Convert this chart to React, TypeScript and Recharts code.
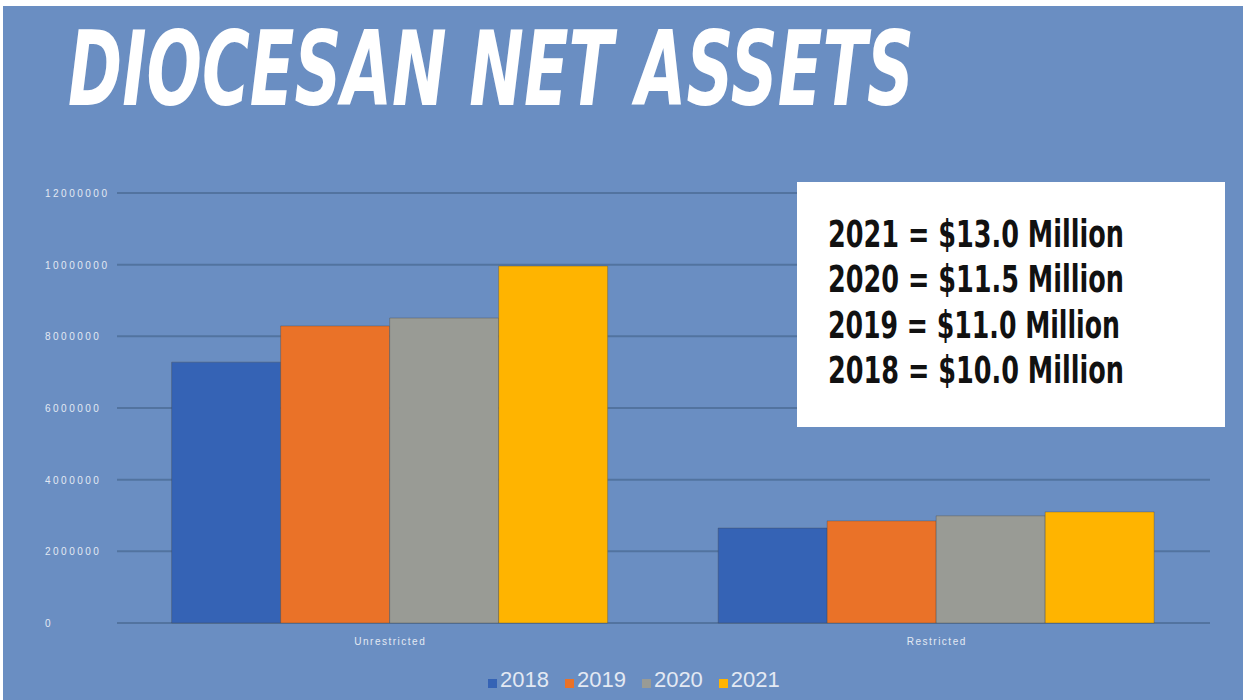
import { Bar, BarChart, CartesianGrid, Legend, XAxis, YAxis } from "recharts";

const categories = ["Unrestricted", "Restricted"];
const years = ["2018", "2019", "2020", "2021"];
const values2018 = [7280000, 2650000];
const values2019 = [8290000, 2850000];
const values2020 = [8510000, 2990000];
const values2021 = [9960000, 3100000];
const yearColors = ["#3563b5", "#ea7228", "#999b95", "#ffb400"];
const yTicks = [0, 2000000, 4000000, 6000000, 8000000, 10000000, 12000000];
const summaryLines = [
  "2021 = $13.0 Million",
  "2020 = $11.5 Million",
  "2019 = $11.0 Million",
  "2018 = $10.0 Million",
];

const seriesValues = [values2018, values2019, values2020, values2021];
const data = categories.map((category, i) => {
  const row: Record<string, string | number> = { category };
  years.forEach((year, j) => {
    row["y" + year] = seriesValues[j][i];
  });
  return row;
});

const BG = "#6a8ec2";
const LABEL = "#e3e9f3";
const condensed = "'DejaVu Sans Condensed', 'DejaVu Sans', sans-serif";

function YTick({ y, payload }: any) {
  return (
    <text x={45} y={y + 4} fontSize={10} letterSpacing={2.5} fill={LABEL} fontFamily="Liberation Sans, sans-serif" textAnchor="start">
      {payload.value}
    </text>
  );
}

function XTick({ x, y, payload }: any) {
  return (
    <text x={x} y={y + 14} fontSize={10} letterSpacing={1.5} fill={LABEL} fontFamily="Liberation Sans, sans-serif" textAnchor="middle">
      {payload.value}
    </text>
  );
}

function LegendContent() {
  return (
    <div style={{ display: "flex", alignItems: "center", height: 28, fontFamily: "Liberation Sans, sans-serif", fontSize: 22, color: LABEL }}>
      {years.map((year, i) => (
        <div key={year} style={{ display: "flex", alignItems: "center", marginRight: 16 }}>
          <span style={{ display: "inline-block", width: 9, height: 9, background: yearColors[i], marginRight: 3, marginTop: 6 }} />
          <span>{year}</span>
        </div>
      ))}
    </div>
  );
}

export default function App() {
  return (
    <div style={{ position: "absolute", left: 0, top: 0, width: 1245, height: 700, background: "#ffffff", overflow: "hidden" }}>
      <div style={{ position: "absolute", left: 3, top: 6, right: 2, bottom: 0, background: BG }} />
      <div style={{ position: "absolute", left: 0, top: 0 }}>
        <BarChart width={1245} height={700} data={data} margin={{ top: 193, right: 35, bottom: 19, left: 0 }} barCategoryGap="10%" barGap={0}>
          <CartesianGrid vertical={false} stroke="#52739f" strokeWidth={2} />
          <XAxis dataKey="category" axisLine={false} tickLine={false} tick={<XTick />} height={30} />
          <YAxis domain={[0, 12000000]} ticks={yTicks} axisLine={false} tickLine={false} width={117} tick={<YTick />} interval={0} />
          <Legend verticalAlign="bottom" content={<LegendContent />} wrapperStyle={{ top: 666, bottom: "auto", left: 488, width: "auto", height: 28 }} />
          {years.map((year, i) => (
            <Bar key={year} dataKey={"y" + year} name={year} fill={yearColors[i]} stroke="rgba(70,70,70,0.35)" strokeWidth={1} isAnimationActive={false} />
          ))}
        </BarChart>
      </div>
      <svg style={{ position: "absolute", left: 0, top: 0 }} width={1000} height={180}>
        <g transform="scale(1, 1.47)">
          <text x={68} y={71.4} fontSize={70} fontFamily={condensed} fontWeight="bold" fontStyle="italic" fill="#ffffff" textLength={846} lengthAdjust="spacingAndGlyphs">
            DIOCESAN NET ASSETS
          </text>
        </g>
      </svg>
      <div style={{ position: "absolute", left: 797, top: 182, width: 428, height: 245, background: "#ffffff" }}>
        <svg width={428} height={245}>
          {summaryLines.map((line, i) => (
            <text key={line} x={31} y={65 + i * 45.3} fontSize={37} fontFamily={condensed} fontWeight="bold" fill="#111111" textLength={i === 2 ? 292 : 296} lengthAdjust="spacingAndGlyphs">
              {line}
            </text>
          ))}
        </svg>
      </div>
    </div>
  );
}
